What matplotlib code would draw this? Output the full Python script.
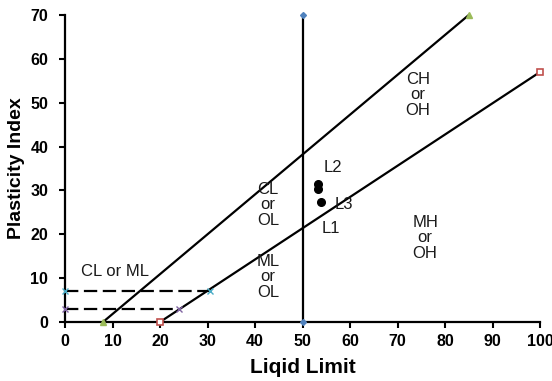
import matplotlib
matplotlib.use("Agg")
import matplotlib.pyplot as plt

plt.rcParams['font.family'] = ['Liberation Sans', 'DejaVu Sans']

# Lines on the plasticity chart
u_line_x = [8, 85]
u_line_y = [0, 70]
a_line_x = [20, 100]
a_line_y = [0, 57]
ll50_x = [50, 50]
ll50_y = [0, 70]
pi7_x = [0, 30.5]
pi7_y = [7, 7]
pi3_x = [0, 24]
pi3_y = [3, 3]

# Soil samples
sample_ll = [53.3, 53.3, 53.9]
sample_pi = [31.4, 30.3, 27.3]

# Region labels
region_text = ["CH\nor\nOH", "CL\nor\nOL", "ML\nor\nOL", "MH\nor\nOH", "CL or ML"]
region_x = [74.3, 42.7, 42.7, 75.8, 10.5]
region_y = [51.8, 26.7, 10.3, 19.2, 11.6]

sample_text = ["L2", "L3", "L1"]
sample_tx = [56.4, 58.7, 56.0]
sample_ty = [35.3, 26.9, 21.4]

x_ticks = [0, 10, 20, 30, 40, 50, 60, 70, 80, 90, 100]
y_ticks = [0, 10, 20, 30, 40, 50, 60, 70]

fig = plt.figure(figsize=(5.52, 3.81), dpi=100)
ax = fig.add_axes([0.1178, 0.1549, 0.8605, 0.8057])

lw = 1.6
dash = (0, (6, 2.5))
ax.plot(u_line_x, u_line_y, color='black', lw=lw, marker='^', ms=4,
        mfc='#9bbb59', mec='#9bbb59', zorder=3, clip_on=False)
ax.plot(a_line_x, a_line_y, color='black', lw=lw, marker='s', ms=4,
        mfc='white', mec='#c0504d', mew=1.2, zorder=3, clip_on=False)
ax.plot(ll50_x, ll50_y, color='black', lw=lw, marker='D', ms=3,
        mfc='#4f81bd', mec='#4f81bd', zorder=3, clip_on=False)
ax.plot(pi7_x, pi7_y, color='black', lw=lw, ls=dash, marker='x', ms=4,
        mec='#4bacc6', zorder=3, clip_on=False)
ax.plot(pi3_x, pi3_y, color='black', lw=lw, ls=dash, marker='x', ms=4,
        mec='#8064a2', zorder=3, clip_on=False)
ax.plot(sample_ll, sample_pi, ls='none', marker='o', ms=5.5, color='black', zorder=4)

for t, x, y in zip(region_text, region_x, region_y):
    ax.text(x, y, t, ha='center', va='center', fontsize=12, color='#1a1a1a',
            linespacing=1.05)
for t, x, y in zip(sample_text, sample_tx, sample_ty):
    ax.text(x, y, t, ha='center', va='center', fontsize=12, color='#1a1a1a')

ax.set_xlim(0, 100)
ax.set_ylim(0, 70)
ax.set_xticks(x_ticks)
ax.set_yticks(y_ticks)
ax.set_xticklabels([str(v) for v in x_ticks], fontweight='bold', fontsize=11.5)
ax.set_yticklabels([str(v) for v in y_ticks], fontweight='bold', fontsize=11.5)
ax.tick_params(axis='x', direction='out', length=4, width=1.5, colors='black', pad=5)
ax.tick_params(axis='y', direction='out', length=4, width=1.5, colors='black', pad=8)
for s in ['top', 'right']:
    ax.spines[s].set_visible(False)
for s in ['left', 'bottom']:
    ax.spines[s].set_linewidth(1.6)
ax.set_xlabel('Liqid Limit', fontweight='bold', fontsize=15, labelpad=6)
ax.set_ylabel('Plasticity Index', fontweight='bold', fontsize=14, labelpad=4)

fig.savefig('out.png', dpi=100)
